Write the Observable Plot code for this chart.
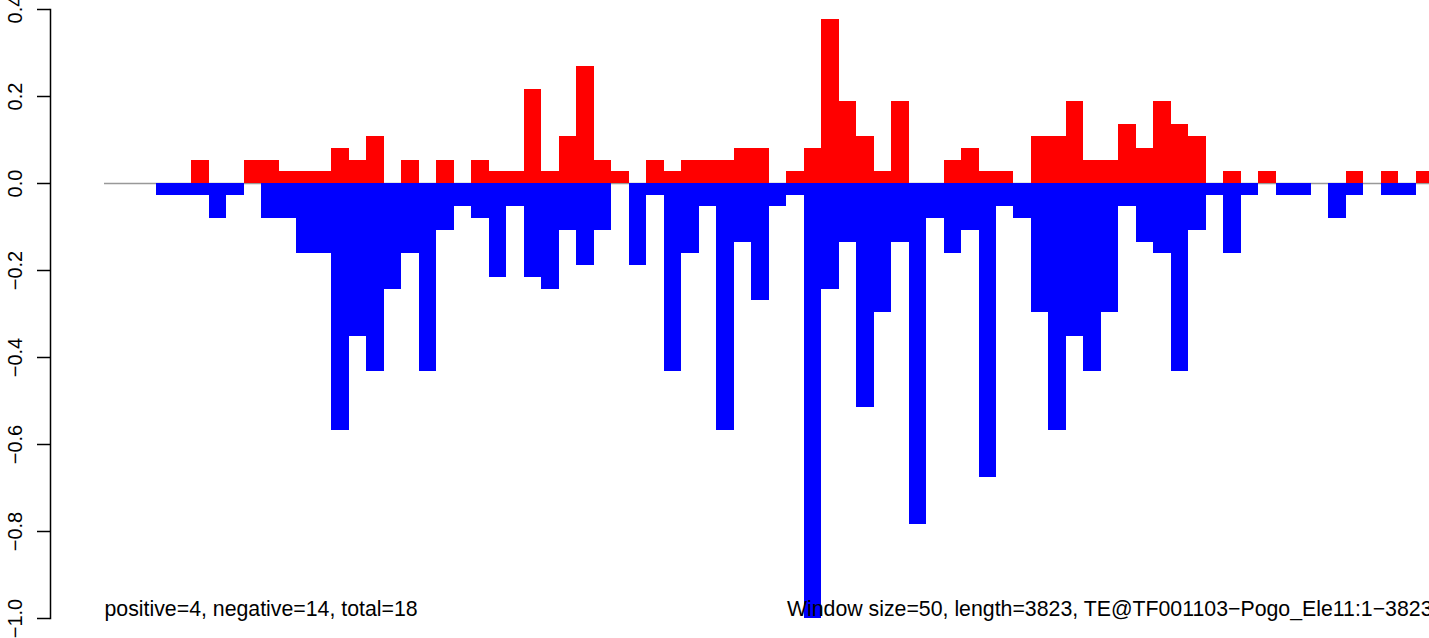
<!DOCTYPE html>
<html><head><meta charset="utf-8">
<script src="https://cdn.jsdelivr.net/npm/d3@7"></script>
<script src="https://cdn.jsdelivr.net/npm/@observablehq/plot@0.6"></script>
<style>html,body{margin:0;padding:0;background:#fff;overflow:hidden}</style>
</head><body><div id="chart"></div>
<script>
const windowSize = 50;
const seqLength = 3823;
const positive = [
  0,0,0,0,0,0.054,0,0,0.054,0.054,
  0.027,0.027,0.027,0.081,0.054,0.108,0,0.054,0,0.054,
  0,0.054,0.027,0.027,0.216,0.027,0.108,0.270,0.054,0.027,
  0,0.054,0.027,0.054,0.054,0.054,0.081,0.081,0,0.027,
  0.081,0.378,0.189,0.108,0.027,0.189,0,0,0.054,0.081,
  0.027,0.027,0,0.108,0.108,0.189,0.054,0.054,0.135,0.081,
  0.189,0.135,0.108,0,0.027,0,0.027,0,0,0,
  0,0.027,0,0.027,0,0.027
];
const negative = [
  0,0,0,-0.027,-0.027,-0.027,-0.081,-0.027,0,-0.081,
  -0.081,-0.162,-0.162,-0.568,-0.351,-0.432,-0.243,-0.162,-0.432,-0.108,
  -0.054,-0.081,-0.216,-0.054,-0.216,-0.243,-0.108,-0.189,-0.108,0,
  -0.189,-0.027,-0.432,-0.162,-0.054,-0.568,-0.135,-0.270,-0.054,-0.027,
  -1.000,-0.243,-0.135,-0.514,-0.297,-0.135,-0.784,-0.081,-0.162,-0.108,
  -0.676,-0.054,-0.081,-0.297,-0.568,-0.351,-0.432,-0.297,-0.054,-0.135,
  -0.162,-0.432,-0.108,-0.027,-0.162,-0.027,0,-0.027,-0.027,0,
  -0.081,-0.027,0,-0.027,-0.027,0
];
const yTicks = [0.4, 0.2, 0, -0.2, -0.4, -0.6, -0.8, -1.0];
const yTickLabels = ["0.4", "0.2", "0.0", "\u22120.2", "\u22120.4", "\u22120.6", "\u22120.8", "\u22121.0"];
const leftNote = "positive=4, negative=14, total=18";
const rightNote = "Window size=50, length=3823, TE@TF001103\u2212Pogo_Ele11:1\u22123823";

const posBars = positive.map((v, i) => ({start: i * windowSize, end: (i + 1) * windowSize, value: v})).filter(d => d.value !== 0);
const negBars = negative.map((v, i) => ({start: i * windowSize, end: (i + 1) * windowSize, value: v})).filter(d => d.value !== 0);

const pxPerBp = 0.3498;
const chart = Plot.plot({
  width: 1429, height: 638,
  marginTop: 9, marginBottom: 20, marginLeft: 50, marginRight: 0,
  style: {fontFamily: "'Liberation Sans', Arial, sans-serif", background: "#fff", color: "#000"},
  x: {domain: [0, seqLength], range: [104, 104 + seqLength * pxPerBp], axis: null},
  y: {domain: [-1, 0.4], label: null},
  marks: [
    Plot.ruleY([0], {x1: 0, x2: seqLength, stroke: "#999", strokeWidth: 1.5}),
    Plot.rect(posBars, {x1: "start", x2: "end", y1: 0, y2: "value", fill: "#ff0000", shapeRendering: "crispEdges"}),
    Plot.rect(negBars, {x1: "start", x2: "end", y1: 0, y2: "value", fill: "#0000ff", shapeRendering: "crispEdges"}),
    Plot.frame({anchor: "left", stroke: "#000", strokeWidth: 1.5}),
    Plot.axisY({ticks: yTicks, tickSize: 13, tickFormat: () => "", label: null, stroke: "#000", strokeWidth: 1.5}),
    Plot.text(yTicks, {y: d => d, text: (d, i) => yTickLabels[i], frameAnchor: "left", dx: -35, rotate: -90, textAnchor: "middle", lineAnchor: "middle", fontSize: 20, fill: "#000"}),
    Plot.text([leftNote], {x: 0, y: -1, text: d => d, textAnchor: "start", lineAnchor: "bottom", dy: -3, fontSize: 21.3, fill: "#000"}),
    Plot.text([rightNote], {frameAnchor: "bottom-right", text: d => d, textAnchor: "end", lineAnchor: "bottom", dx: 3, dy: -3, fontSize: 21.3, fill: "#000"})
  ]
});
document.getElementById("chart").appendChild(chart);
</script>
</body></html>
